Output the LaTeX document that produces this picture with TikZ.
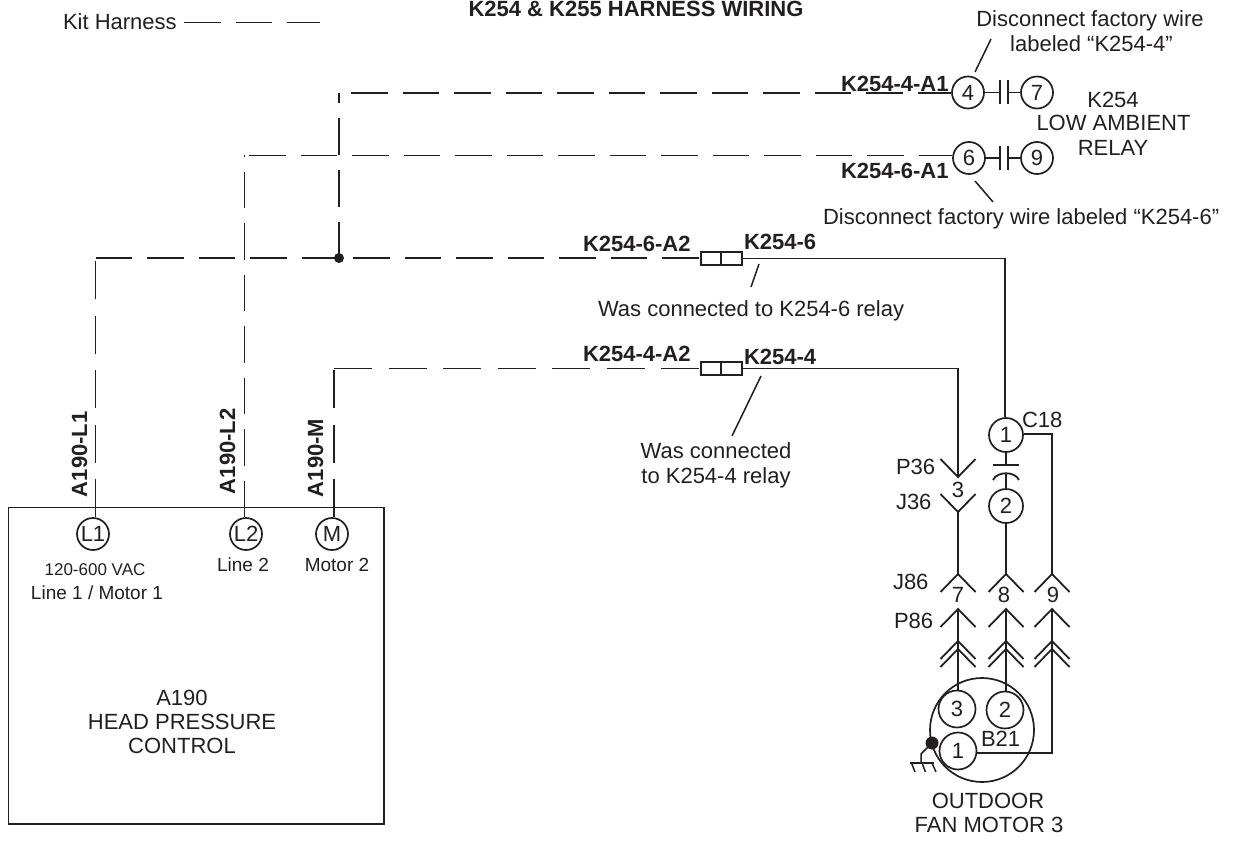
\documentclass[tikz,border=0pt]{standalone}
\usepackage{fontspec}
\setmainfont{Liberation Sans}
\definecolor{ink}{HTML}{231F20}
\tikzset{
  base/.style={x=1pt,y=-1pt,line width=1.7pt,color=ink,line cap=butt},
  txt/.style={inner sep=0pt,outer sep=0pt,text=ink,font=\fontsize{22}{26}\selectfont},
  lab/.style={txt,anchor=base west},
  cen/.style={txt,anchor=base},
  small/.style={font=\fontsize{19}{23}\selectfont},
  blab/.style={lab,font=\fontsize{22}{26}\selectfont\bfseries},
  vlab/.style={blab,rotate=90},
  pin/.style={circle,draw=ink,line width=1.7pt,fill=white,inner sep=0pt,minimum size=32pt,text=ink,font=\fontsize{22}{26}\selectfont},
  bigpin/.style={pin,minimum size=37pt},
  wire/.style={draw=ink,line width=1.8pt},
  harnessA/.style={wire,dash pattern=on 36.5pt off 15pt},
  harnessB/.style={wire,dash pattern=on 38pt off 16.5pt},
  thin/.style={draw=ink,line width=1.5pt},
  plugbox/.style={rectangle,draw=ink,line width=1.7pt,fill=white,minimum width=20.5pt,minimum height=13pt,inner sep=0pt},
}
% contact shapes: #1 = x, #2 = apex y, #3 = arm direction (+1 arms below apex, -1 arms above)
\newcommand{\chev}[3]{\draw[wire] (#1-17.5,{#2+#3*18}) -- (#1,#2) -- (#1+17.5,{#2+#3*18});}
\begin{document}
\begin{tikzpicture}[base]
\useasboundingbox (0,0) rectangle (1233,840);

% A190 box
\node[rectangle,draw=ink,line width=1.7pt,minimum width=375.5pt,minimum height=316.5pt,inner sep=0pt,anchor=north west] (box) at (7.5,506.5) {};

% pins
\node[pin] (L1) at (93,534) {L1};
\node[pin] (L2) at (246,534) {L2};
\node[pin] (M) at (332,534) {M};
\node[pin] (c4) at (968,92.5) {4};
\node[pin] (c7) at (1037,92.5) {7};
\node[pin] (c6) at (969,158) {6};
\node[pin] (c9) at (1037,158) {9};
\node[bigpin,minimum size=34pt] (cap1) at (1006,435) {1};
\node[bigpin,minimum size=34pt] (cap2) at (1006,506) {2};
\node[circle,draw=ink,line width=1.7pt,inner sep=0pt,minimum size=104pt] (motor) at (982,730) {};
\node[bigpin] (m3) at (957,709) {3};
\node[bigpin] (m2) at (1005,710) {2};
\node[bigpin] (m1) at (958,751) {1};

% in-line connectors
\node[plugbox] (s6a) at (711,258.5) {};
\node[plugbox] (s6b) at (731.5,258.5) {};
\node[plugbox] (s4a) at (711,368.5) {};
\node[plugbox] (s4b) at (731.5,368.5) {};

% free ends
\coordinate (a4) at (351,93);
\coordinate (a6) at (249,155.5);
\coordinate (j) at (339,258);
\coordinate (top4) at (339,93);
\coordinate (top6) at (244.5,155);
\coordinate (l1corner) at (95.5,258);
\coordinate (l1top) at (95.5,260);
\coordinate (mcorner) at (334,368.5);
\coordinate (wr6) at (1005,258.5);
\coordinate (wr4) at (958,368.5);
\coordinate (p36) at (958,477);
\coordinate (j36) at (958,512);
\coordinate (j86a) at (958,574);
\coordinate (p86a) at (958,609);
\coordinate (j86b) at (1006,574);
\coordinate (p86b) at (1006,609);
\coordinate (j86c) at (1052,574);
\coordinate (p86c) at (1052,609);
\coordinate (cr1) at (1052,434);
\coordinate (mr1) at (1052,753);
\coordinate (capbar) at (1006,465);
\coordinate (caparc) at (1006,474);
\coordinate (leg1) at (184,22.5);
\coordinate (leg2) at (320,22.5);

% harness (dashed) wires
\draw[harnessA] (leg1) -- (leg2);
\draw[harnessA] (a4) -- (c4.west |- a4);
\draw[harnessA] (a6) -- (c6.west |- a6);
\draw[harnessA] (l1corner) -- (s6a.west |- l1corner);
\draw[harnessA] (j) -- (top4);
\draw[harnessA] (L2.north -| top6) -- (top6);
\draw[harnessB] (L1.north -| l1top) -- (l1top);
\draw[harnessB] (M.north -| mcorner) -- (mcorner);
\draw[harnessB] (mcorner) -- (s4a.west);
\fill[ink] (j) circle[radius=5pt];

% solid wires
\draw[wire] (s6b.east) -- (wr6) -- (cap1.north -| wr6);
\draw[wire] (s4b.east) -- (wr4) -- (p36);
\draw[wire] (j36) -- (j86a);
\draw[wire] (cap2.south) -- (j86b);
\draw[wire] (cap1.east |- cr1) -- (cr1) -- (j86c);
\draw[wire] (cap1.south) -- (capbar);
\draw[wire] (caparc) -- (cap2.north);
\draw[wire] (993,465) -- (1019,465);
\draw[wire] (993,480) .. controls (997,471) and (1015,471) .. (1019,480);
\draw[wire] (p86a) -- (m3.north -| p86a);
\draw[wire] (p86b) -- (m2.north -| p86b);
\draw[wire] (p86c) -- (mr1) -- (m1.east |- mr1);

% contacts
\draw[wire] (c4.east) -- (1000,92.5);
\draw[wire] (1000,80) -- (1000,104);
\draw[wire] (1008,80) -- (1008,104);
\draw[wire] (1008,92.5) -- (c7.west);
\draw[wire] (c6.east) -- (1000,158);
\draw[wire] (1000,146) -- (1000,170);
\draw[wire] (1008,146) -- (1008,170);
\draw[wire] (1008,158) -- (c9.west);

% chevrons
\chev{958}{477}{-1}
\chev{958}{512}{-1}
\foreach \cx in {958,1006,1052}{
  \chev{\cx}{574}{1}
  \chev{\cx}{609}{1}
  \chev{\cx}{641}{1}
  \chev{\cx}{649}{1}
}

% ground
\fill[ink] (932,743) circle[radius=6.5pt];
\draw[thin] (932,743) -- (921,754) -- (921,763);
\draw[thin] (910,763) -- (934,763);
\draw[thin] (911.5,763) -- (915,772);
\draw[thin] (922,763) -- (925.5,772);
\draw[thin] (932,763) -- (936,772);

% leaders
\draw[thin] (991,39) -- (975,72);
\draw[thin] (975,181) -- (993,202);
\draw[thin] (759,264) -- (751,287);
\draw[thin] (761,376) -- (732,436);

% texts
\node[lab] (t1) at (63,30) {Kit Harness};
\node[blab] (t2) at (468.5,17) {K254 \& K255 HARNESS WIRING};
\node[cen] (t3) at (1090,27) {Disconnect factory wire};
\node[cen] (t4) at (1091.5,52) {labeled “K254-4”};
\node[blab] (t5) at (841,92) {K254-4-A1};
\node[blab] (t6) at (841,178) {K254-6-A1};
\node[cen] (t7) at (1113,107) {K254};
\node[cen] (t8) at (1113.5,131) {LOW AMBIENT};
\node[cen] (t9) at (1113,155) {RELAY};
\node[lab] (t10) at (823,224) {Disconnect factory wire labeled “K254-6”};
\node[blab] (t11) at (583,251) {K254-6-A2};
\node[blab] (t12) at (744,249) {K254-6};
\node[blab] (t13) at (583,361) {K254-4-A2};
\node[blab] (t14) at (744,364) {K254-4};
\node[lab] (t15) at (598,316) {Was connected to K254-6 relay};
\node[cen] (t16) at (716,458) {Was connected};
\node[cen] (t17) at (716,483) {to K254-4 relay};
\node[lab] (t18) at (1022,427) {C18};
\node[lab] (t19) at (896,474) {P36};
\node[cen] (t20) at (958,497) {3};
\node[lab] (t21) at (896,509) {J36};
\node[lab] (t22) at (893,589) {J86};
\node[cen] (t23) at (958,602) {7};
\node[cen] (t24) at (1004,602) {8};
\node[cen] (t25) at (1053,602) {9};
\node[lab] (t26) at (894,628) {P86};
\node[lab] (t27) at (981,746) {B21};
\node[cen] (t28) at (988,808) {OUTDOOR};
\node[cen] (t29) at (989,832) {FAN MOTOR 3};
\node[cen] (t30) at (182,705) {A190};
\node[cen] (t31) at (182,729) {HEAD PRESSURE};
\node[cen] (t32) at (182,753) {CONTROL};
\node[vlab] (t33) at (87,497) {A190-L1};
\node[vlab] (t34) at (235,494) {A190-L2};
\node[vlab] (t35) at (323,497) {A190-M};
\node[cen,small] (t36) at (243,571) {Line 2};
\node[cen,small] (t37) at (337,571) {Motor 2};
\node[cen,font=\fontsize{17}{20}\selectfont] (t38) at (95,575) {120-600 VAC};
\node[cen,small] (t39) at (97,599) {Line 1 / Motor 1};
\end{tikzpicture}
\end{document}
